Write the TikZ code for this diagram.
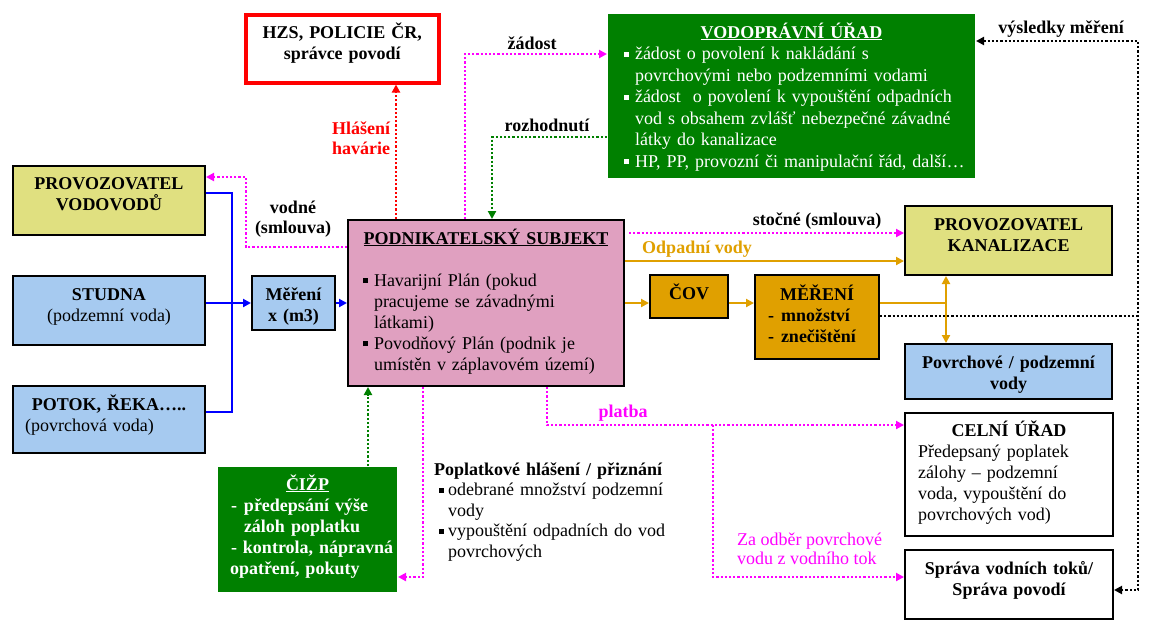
\documentclass[tikz,border=0pt]{standalone}
\usepackage{fontspec}
\setmainfont{Liberation Serif}
\usetikzlibrary{arrows.meta}

\definecolor{kanalyellow}{RGB}{224,224,128}
\definecolor{zdrojblue}{RGB}{166,202,240}
\definecolor{subjektpink}{RGB}{224,160,192}
\definecolor{covorange}{RGB}{224,160,0}
\definecolor{uradgreen}{RGB}{0,128,0}
\definecolor{platbapink}{RGB}{255,0,255}

\newcommand{\sqbullet}{\rule[3pt]{5pt}{5pt}}

\begin{document}
\begin{tikzpicture}[
    x=1pt, y=-1pt,
    >={Triangle[length=8pt, width=8pt]},
    box/.style={draw, line width=2pt, inner sep=0pt, align=center, font=\fontsize{18}{21}\selectfont\bfseries},
    dims/.style n args={3}{anchor=north west, text width=#1pt, text height=#2pt, text depth=#3pt},
    lbl/.style={inner sep=0pt, align=center, font=\fontsize{18}{20}\selectfont\bfseries},
    bluearrow/.style={blue, line width=2.2pt},
    orangearrow/.style={covorange, line width=2.5pt},
    dotline/.style={line width=2.2pt, dash pattern=on 2.2pt off 2pt}
]
    \path[use as bounding box, fill=white] (0,0) rectangle (1153,633);

    % Sources
    \node[box, fill=kanalyellow, dims={192}{23}{46}] (vodovod) at (12,165) {PROVOZOVATEL\\VODOVODŮ};
    \node[box, fill=zdrojblue, dims={192}{24}{45}] (studna) at (12,275) {STUDNA\\\mdseries(podzemní voda)};
    \node[box, fill=zdrojblue, dims={192}{24}{43}] (potok) at (12,385) {POTOK, ŘEKA…..\\\mbox{\mdseries(povrchová voda)\hspace{39pt}}};
    \node[box, fill=zdrojblue, dims={83}{24}{30}] (mereni) at (251,275) {Měření\\x (m3)};

    % Company
    \node[box, fill=subjektpink, align=left, font=\fontsize{18}{21}\selectfont, dims={276}{24}{142}] (podnik) at (347,219) {%
        \makebox[\linewidth]{\bfseries\underline{PODNIKATELSKÝ SUBJEKT}}\\[21pt]
        \hspace*{15pt}\sqbullet\hspace{6pt}Havarijní Plán (pokud\\
        \hspace*{26pt}pracujeme se závadnými\\
        \hspace*{26pt}látkami)\\
        \hspace*{15pt}\sqbullet\hspace{6pt}Povodňový Plán (podnik je\\
        \hspace*{26pt}umístěn v záplavovém území)};

    % Authorities
    \node[box, draw=red, line width=3.5pt, dims={193}{24}{44}] (hzs) at (244,13) {HZS, POLICIE ČR,\\správce povodí};
    \node[box, draw=none, fill=uradgreen, text=white, align=left, font=\fontsize{18}{21.5}\selectfont, dims={367}{24}{140}] (vodo) at (607,13) {%
        \makebox[\linewidth]{\bfseries\underline{VODOPRÁVNÍ ÚŘAD}}\\
        \hspace*{16pt}\sqbullet\hspace{6pt}žádost o povolení k nakládání s\\
        \hspace*{27pt}povrchovými nebo podzemními vodami\\
        \hspace*{16pt}\sqbullet\hspace{6pt}žádost \ o povolení k vypouštění odpadních\\
        \hspace*{27pt}vod s obsahem zvlášť nebezpečné závadné\\
        \hspace*{27pt}látky do kanalizace\\
        \hspace*{16pt}\sqbullet\hspace{6pt}HP, PP, provozní či manipulační řád, další…};
    \node[box, draw=none, fill=uradgreen, text=white, align=left, dims={179}{23}{102}] (cizp) at (217,466) {%
        \makebox[\linewidth]{\underline{ČIŽP}}\\
        \hspace*{13pt}\makebox[13pt][l]{-}předepsání výše\\
        \hspace*{26pt}záloh poplatku\\
        \hspace*{13pt}- kontrola, nápravná\\
        \hspace*{12pt}opatření, pokuty};

    % Waste water
    \node[box, fill=covorange, dims={78}{24}{19}] (cov) at (649,274) {ČOV};
    \node[box, fill=covorange, align=left, dims={124}{25}{59}] (merz) at (754,274) {%
        \makebox[\linewidth]{MĚŘENÍ}\\
        \hspace*{13pt}\makebox[13pt][l]{-}množství\\
        \hspace*{13pt}\makebox[13pt][l]{-}znečištění};
    \node[box, fill=kanalyellow, dims={207}{24}{45}] (kanal) at (904,205) {PROVOZOVATEL\\KANALIZACE};
    \node[box, fill=zdrojblue, dims={207}{24}{31}] (povrch) at (904,343) {Povrchové / podzemní\\vody};

    % Fees
    \node[box, align=left, dims={208}{23}{100}] (celni) at (904,412) {%
        \makebox[\linewidth]{CELNÍ ÚŘAD}\\ \mdseries
        \hspace*{13pt}Předepsaný poplatek\\
        \hspace*{13pt}zálohy – podzemní\\
        \hspace*{13pt}voda, vypouštění do\\
        \hspace*{13pt}povrchových vod)};
    \node[box, dims={208}{24}{45}] (sprava) at (904,549) {Správa vodních toků/\\Správa povodí};
    \node[lbl, align=left, font=\fontsize{18}{20.5}\selectfont, dims={240}{15}{90}] (poplatky) at (434,460) {%
        \textbf{Poplatkové hlášení / přiznání}\\
        \hspace*{5pt}\sqbullet\hspace{4pt}odebrané množství podzemní\\
        \hspace*{14pt}vody\\
        \hspace*{5pt}\sqbullet\hspace{4pt}vypouštění odpadních do vod\\
        \hspace*{14pt}povrchových};

    % Labels
    \node[lbl, text=red] (havarie) at (361,138) {Hlášení\\havárie};
    \node[lbl] (zadost) at (532,43) {žádost};
    \node[lbl] (rozhodnuti) at (547,125) {rozhodnutí};
    \node[lbl] (vodne) at (293,219) {vodné\\(smlouva)};
    \node[lbl] (stocne) at (817,221) {stočné (smlouva)};
    \node[lbl, text=covorange] (odpadni) at (697,249) {Odpadní vody};
    \node[lbl, text=platbapink] (platba) at (623,413) {platba};
    \node[lbl] (vysledky) at (1061,29) {výsledky měření};
    \node[lbl, text=platbapink, align=left, anchor=west, font=\fontsize{18}{19.5}\selectfont] (zaodber) at (737,549) {Za odběr povrchové\\vodu z vodního tok};

    % Bend points
    \coordinate (busTop) at (232,193);
    \coordinate (busBot) at (232,412);
    \coordinate (flow) at (0,303);
    \coordinate (odp) at (0,261);
    \coordinate (stoc) at (629,233);
    \coordinate (junc) at (946,303);
    \coordinate (vys) at (1138,316);
    \coordinate (vysTop) at (1138,41);
    \coordinate (vysBot) at (1138,590);
    \coordinate (vodLow) at (246,247);
    \coordinate (vodTop) at (246,177);
    \coordinate (hav) at (396,0);
    \coordinate (zad) at (465,54);
    \coordinate (roz) at (492,137);
    \coordinate (ciz) at (368,0);
    \coordinate (pop) at (423,577);
    \coordinate (pla) at (547,425);
    \coordinate (odb) at (713,425);
    \coordinate (odbLow) at (713,577);

    % Water intake
    \draw[bluearrow] (vodovod.east |- busTop) -- (busTop) -- (busBot) -- (potok.east |- busBot);
    \draw[bluearrow, ->] (studna.east |- mereni) -- (mereni.west);
    \draw[bluearrow, ->] (mereni.east) -- (mereni.east -| podnik.west);

    % Waste water
    \draw[orangearrow, ->] (podnik.east |- odp) -- (kanal.west |- odp);
    \draw[orangearrow, ->] (podnik.east |- flow) -- (cov.west |- flow);
    \draw[orangearrow, ->] (cov.east |- flow) -- (merz.west |- flow);
    \draw[orangearrow] (merz.east |- junc) -- (junc);
    \draw[orangearrow, ->] (junc) -- (junc |- kanal.south);
    \draw[orangearrow, ->] (junc) -- (junc |- povrch.north);

    % Dotted flows
    \draw[dotline, platbapink, ->] (stoc) -- (kanal.west |- stoc);
    \draw[dotline, platbapink, ->] (podnik.west |- vodLow) -- (vodLow) -- (vodTop) -- (vodovod.east |- vodTop);
    \draw[dotline, red, line width=2.5pt, ->] (podnik.north -| hav) -- (hzs.south -| hav);
    \draw[dotline, platbapink, ->] (podnik.north -| zad) -- (zad) -- (vodo.west |- zad);
    \draw[dotline, uradgreen, ->] (vodo.west |- roz) -- (roz) -- (podnik.north -| roz);
    \draw[dotline, uradgreen, ->] (cizp.north -| ciz) -- (podnik.south -| ciz);
    \draw[dotline, platbapink, ->] (podnik.south -| pop) -- (pop) -- (cizp.east |- pop);
    \draw[dotline, platbapink, ->] (podnik.south -| pla) -- (pla) -- (celni.west |- pla);
    \draw[dotline, platbapink, ->] (odb) -- (odbLow) -- (sprava.west |- odbLow);
    \draw[dotline, black] (merz.east |- vys) -- (vys);
    \draw[dotline, black, <->] (vodo.east |- vysTop) -- (vysTop) -- (vysBot) -- (sprava.east |- vysBot);
\end{tikzpicture}
\end{document}
